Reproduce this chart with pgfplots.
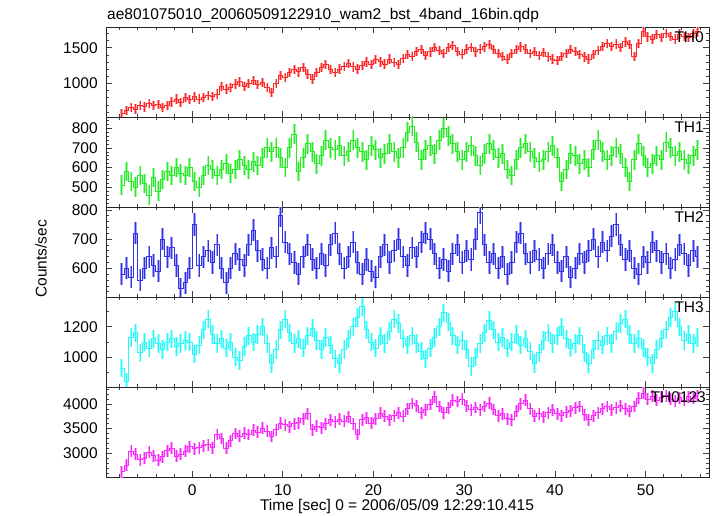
\documentclass[border=0pt]{standalone}
\usepackage{fontspec}
\setmainfont{Liberation Sans}
\usepackage{pgfplots}
\pgfplotsset{compat=1.18}
\usepackage{pgfplotstable}

\pgfplotstableread{
t th0 th1 th2 th3 thall
-7.75 580 510 580 930 2620
-7.25 620 580 600 840 2760
-6.75 660 530 570 1130 3040
-6.25 640 500 720 1160 2980
-5.75 690 560 560 1030 2870
-5.25 670 520 600 1100 2900
-4.75 720 460 640 1060 3020
-4.25 690 550 610 1120 2950
-3.75 700 480 590 1090 2860
-3.25 660 540 700 1050 2930
-2.75 690 580 640 1100 3050
-2.25 740 560 670 1120 3100
-1.75 780 600 610 1070 2940
-1.25 730 570 530 1090 2980
-0.75 800 560 550 1110 3040
-0.25 770 600 600 1100 3130
0.25 810 530 750 1020 3090
0.75 780 500 610 1080 3110
1.25 800 560 640 1180 3150
1.75 830 610 660 1250 3170
2.25 820 590 620 1150 3110
2.75 850 560 680 1090 3380
3.25 960 590 600 1120 3300
3.75 920 620 550 1060 3100
4.25 940 570 600 1100 3250
4.75 990 590 650 1000 3400
5.25 1020 640 630 980 3350
5.75 960 610 610 1070 3410
6.25 1000 590 680 1140 3380
6.75 1040 630 730 1100 3470
7.25 980 610 660 1150 3430
7.75 1010 650 630 1200 3510
8.25 940 700 600 1090 3450
8.75 870 680 670 960 3340
9.25 1000 700 640 1050 3480
9.75 1110 650 780 1180 3610
10.25 1080 600 690 1250 3580
10.75 1150 700 650 1160 3540
11.25 1190 770 620 1090 3600
11.75 1160 580 580 1120 3620
12.25 1220 650 640 1060 3700
12.75 1130 720 680 1140 3800
13.25 1060 680 630 1190 3480
13.75 1150 620 600 1110 3550
14.25 1220 660 650 1050 3520
14.75 1260 740 610 1130 3600
15.25 1190 700 680 1080 3680
15.75 1150 690 720 990 3640
16.25 1200 710 650 960 3690
16.75 1240 660 600 1050 3650
17.25 1280 680 640 1120 3740
17.75 1230 740 690 1200 3600
18.25 1200 700 620 1260 3380
18.75 1250 680 580 1330 3680
19.25 1300 640 630 1180 3720
19.75 1260 710 590 1100 3610
20.25 1330 690 570 1060 3700
20.75 1300 650 640 1140 3810
21.25 1270 670 680 1090 3750
21.75 1340 720 620 1170 3680
22.25 1290 680 660 1250 3760
22.75 1260 650 700 1220 3820
23.25 1350 700 640 1120 3750
23.75 1400 780 610 1080 3900
24.25 1380 810 670 1140 4010
24.75 1450 730 640 1090 3960
25.25 1470 640 690 1040 3820
25.75 1390 690 720 990 3880
26.25 1440 710 700 1060 3990
26.75 1500 670 650 1130 4150
27.25 1460 740 600 1200 3950
27.75 1420 800 630 1290 3820
28.25 1500 760 590 1230 3920
28.75 1530 720 650 1140 4080
29.25 1450 680 680 1080 4050
29.75 1410 640 620 1110 4100
30.25 1480 680 660 1050 3960
30.75 1500 710 630 940 3880
31.25 1440 660 700 1000 3930
31.75 1480 610 790 1090 3880
32.25 1510 670 680 1160 3950
32.75 1540 720 620 1240 4020
33.25 1470 690 650 1180 3890
33.75 1420 650 600 1100 3760
34.25 1380 670 640 1130 3800
34.75 1340 590 580 1060 3700
35.25 1420 560 620 1100 3680
35.75 1470 640 690 1150 3850
36.25 1510 700 720 1080 4000
36.75 1480 720 650 1120 4080
37.25 1420 680 620 1040 3900
37.75 1450 650 660 960 3750
38.25 1390 630 630 1030 3800
38.75 1430 640 600 1110 3740
39.25 1370 680 650 1160 3820
39.75 1340 710 680 1090 3880
40.25 1320 650 620 1140 3800
40.75 1380 530 590 1200 3760
41.25 1420 590 640 1120 3830
41.75 1470 670 570 1060 3860
42.25 1450 660 600 1090 3920
42.75 1400 620 650 1140 3950
43.25 1370 640 620 1030 3780
43.75 1340 600 660 960 3680
44.25 1400 690 700 1050 3760
44.75 1460 740 640 1110 3820
45.25 1520 680 690 1080 3900
45.75 1560 640 660 1140 3950
46.25 1520 660 710 1090 3880
46.75 1550 700 750 1170 3920
47.25 1500 670 680 1220 3960
47.75 1580 600 630 1250 3900
48.25 1540 530 660 1150 3850
48.75 1380 640 600 1090 3950
49.25 1560 720 580 1120 4120
49.75 1720 660 640 1060 4220
50.25 1650 600 620 1000 4100
50.75 1620 620 690 960 4160
51.25 1680 660 660 1050 4080
51.75 1640 640 620 1120 4140
52.25 1700 730 650 1180 4170
52.75 1660 700 600 1260 4100
53.25 1620 660 630 1300 4060
53.75 1690 680 680 1200 4130
54.25 1660 640 650 1110 4080
54.75 1640 620 610 1150 4150
55.25 1700 660 660 1090 4110
55.75 1720 690 640 1130 4160
}\lc

\definecolor{cR}{RGB}{255,40,40}
\definecolor{cG}{RGB}{40,235,40}
\definecolor{cB}{RGB}{50,50,235}
\definecolor{cC}{RGB}{40,250,250}
\definecolor{cM}{RGB}{250,40,250}

\tikzset{
  lab/.style={anchor=base east, inner sep=0pt, xshift=-5pt, yshift=-15.7pt,
    font=\fontsize{15.5}{18}\selectfont},
}
\pgfplotsset{
  panel/.style={
    scale only axis, width=603pt, height=90pt, anchor=north west,
    xmin=-9.5, xmax=57,
    xtick={0,10,20,30,40,50}, minor xtick={-8,-6,...,56},
    xtick pos=both, ytick pos=both,
    xticklabel pos=lower, yticklabel pos=left,
    tick align=inside, major tick length=6pt, minor tick length=3pt,
    axis line style={line width=0.9pt, black!85},
    tick style={line width=0.7pt, black!75},
    every tick label/.append style={font=\fontsize{15.5}{18}\selectfont},
    /pgf/number format/assume math mode=true,
    /pgf/number format/1000 sep={},
    yticklabel style={xshift=-3pt},
    xticklabel style={yshift=-2pt},
    xticklabels={},
  },
  serA/.style 2 args={draw=#1!50!white, const plot mark mid, line width=1pt, mark=none,
    error bars/y dir=both, error bars/y fixed=#2, error bars/error mark=none,
    error bars/error bar style={line width=2.8pt, draw=#1!45!white, solid}},
  serB/.style 2 args={draw=#1, const plot mark mid, line width=1pt, mark=none,
    error bars/y dir=both, error bars/y fixed=#2, error bars/error mark=none,
    error bars/error bar style={line width=0.8pt, draw=#1, solid}},
}

\begin{document}
\fontsize{15.5}{18}\selectfont
\begin{tikzpicture}
\useasboundingbox (-106pt,27pt) rectangle (611pt,-489pt);

\begin{axis}[panel, at={(0pt,0pt)}, ymin=530, ymax=1790,
  ytick={1000,1500}, minor ytick={600,700,...,1700}]
\addplot[serA={cR}{65}] table[x=t, y=th0] {\lc};
\addplot[serB={cR}{65}] table[x=t, y=th0] {\lc};
\node[lab] at (rel axis cs:1,1) {TH0};
\end{axis}

\begin{axis}[panel, at={(0pt,-90pt)}, ymin=400, ymax=857,
  ytick={500,600,700,800}, minor ytick={420,440,...,840}]
\addplot[serA={cG}{50}] table[x=t, y=th1] {\lc};
\addplot[serB={cG}{50}] table[x=t, y=th1] {\lc};
\node[lab] at (rel axis cs:1,1) {TH1};
\end{axis}

\begin{axis}[panel, at={(0pt,-180pt)}, ymin=502, ymax=810,
  ytick={600,700,800}, minor ytick={520,540,...,800}]
\addplot[serA={cB}{38}] table[x=t, y=th2] {\lc};
\addplot[serB={cB}{38}] table[x=t, y=th2] {\lc};
\node[lab] at (rel axis cs:1,1) {TH2};
\end{axis}

\begin{axis}[panel, at={(0pt,-270pt)}, ymin=806, ymax=1394,
  ytick={1000,1200}, minor ytick={900,1100,1300}]
\addplot[serA={cC}{60}] table[x=t, y=th3] {\lc};
\addplot[serB={cC}{60}] table[x=t, y=th3] {\lc};
\node[lab] at (rel axis cs:1,1) {TH3};
\end{axis}

\begin{axis}[panel, at={(0pt,-360pt)}, ymin=2518, ymax=4345,
  ytick={3000,3500,4000}, minor ytick={2600,2700,...,4300},
  xticklabels={0,10,20,30,40,50}]
\addplot[serA={cM}{120}] table[x=t, y=thall] {\lc};
\addplot[serB={cM}{120}] table[x=t, y=thall] {\lc};
\node[lab, xshift=2pt] at (rel axis cs:1,1) {TH0123};
\end{axis}

\node[anchor=base west, inner sep=0pt] at (1pt,7pt)
  {ae801075010\_20060509122910\_wam2\_bst\_4band\_16bin.qdp};
\node[anchor=base, inner sep=0pt] at (291pt,-483pt)
  {Time [sec] 0 = 2006/05/09 12:29:10.415};
\node[rotate=90, anchor=center, inner sep=0pt] at (-65pt,-232pt) {Counts/sec};
\end{tikzpicture}
\end{document}
